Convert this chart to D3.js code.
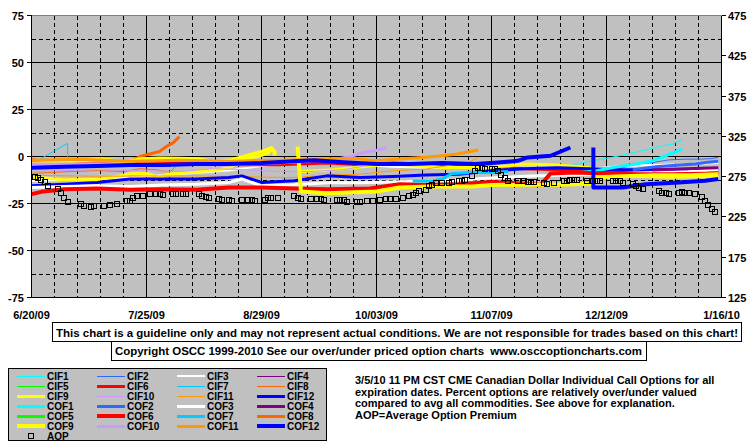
<!DOCTYPE html>
<html><head><meta charset="utf-8">
<script src="https://cdn.jsdelivr.net/npm/d3@7"></script>
<style>
html,body{margin:0;padding:0;background:#fff;}
svg{display:block;}
text{font-family:"Liberation Sans",Arial,sans-serif;font-weight:bold;font-size:11px;fill:#000;}
text.lgt{font-size:10px;}
</style></head><body>
<svg id="chart" width="755" height="446"></svg>
<script>
// ---------- data ----------
const xTickLabels = ["6/20/09","7/25/09","8/29/09","10/03/09","11/07/09","12/12/09","1/16/10"];
const leftTicks = [75,50,25,0,-25,-50,-75];
const rightTicks = [475,425,375,325,275,225,175,125];

const CIF1 = [["11/27/09",-7],["12/3/09",-4],["12/7/09",-2.5],["12/12/09",-1],["12/16/09",0.4],["12/20/09",2],["12/24/09",3.5],["12/29/09",5.7],["1/1/10",6.5],["1/4/10",8.9]];
const CIF2 = [["12/10/09",-6.5],["12/17/09",-5.9],["12/21/09",-4],["12/26/09",-3.2],["12/31/09",-1.8],["1/5/10",-1.4],["1/10/10",-1.4],["1/13/10",-1.1],["1/15/10",-0.5]];
const CIF3 = [["6/20/09",-13],["7/10/09",-12],["7/30/09",-10],["8/19/09",-7.5],["8/29/09",-5],["9/8/09",-3],["9/18/09",-3.5],["9/28/09",-4.5],["10/8/09",-5.5],["10/18/09",-6],["10/28/09",-6],["11/7/09",-5.9],["11/17/09",-6],["11/27/09",-6],["12/7/09",-6.5],["12/17/09",-5],["12/27/09",-4.5],["1/6/10",-4],["1/15/10",-3.5]];
const CIF4 = [["1/2/10",-6.8],["1/8/10",-6.3],["1/15/10",-5.8]];
const CIF5 = [];
const CIF6 = [["6/20/09",-1.8],["6/25/09",-2.7],["7/5/09",-3.5],["7/15/09",-3.5],["7/25/09",-3.9],["8/4/09",-3.5],["8/14/09",-3.9],["8/24/09",-4.4],["9/3/09",-4.4],["9/18/09",-3.5],["9/28/09",-4.4],["10/8/09",-3.5],["10/18/09",-4],["10/28/09",-4.5],["11/7/09",-5],["11/12/09",-6],["11/17/09",-6.5],["11/27/09",-7],["12/7/09",-7.5],["12/17/09",-8],["12/27/09",-8],["1/6/10",-8.5],["1/15/10",-8.5]];
const CIF7 = [["6/22/09",-2],["6/23/09",-1],["6/25/09",1],["6/27/09",3],["6/29/09",5],["7/1/09",7],["7/1/09",-3]];
const CIF8 = [["6/20/09",-9],["6/26/09",-8.5],["7/2/09",-8],["7/10/09",-7.5],["7/18/09",-8],["7/23/09",-6.5],["7/28/09",-7],["8/1/09",-8.5],["8/3/09",-5],["8/5/09",-4]];
const CIF9 = [["6/20/09",-11],["6/24/09",-11.5],["6/30/09",-12.4],["7/10/09",-12.4],["7/16/09",-10.6],["7/20/09",-9.2],["7/25/09",-8.9],["7/28/09",-10.6],["7/29/09",-11.5],["7/31/09",-9.5],["8/4/09",-8.9],["8/10/09",-8],["8/16/09",-7.1],["8/20/09",-5.3],["8/24/09",-0.9],["8/28/09",0],["8/31/09",1.8],["9/1/09",3.5],
  null,["9/10/09",-8],["9/20/09",-7],["10/1/09",-5],["10/6/09",-4],["10/15/09",-4.6],["10/23/09",-5.9],["11/2/09",-5.9],["11/12/09",-5],["11/17/09",-4],["11/27/09",-4.5],["12/7/09",-6],["12/10/09",-9.5],["12/20/09",-10.5],["1/1/10",-11],["1/15/10",-10.5]];
const CIF10 = [["6/20/09",-8],["7/10/09",-7],["7/25/09",-7.5],["8/4/09",-8],["8/14/09",-6.5],["8/24/09",-7],["9/3/09",-8],["9/13/09",-8],["9/23/09",-7],["9/28/09",-5.5],["10/3/09",-4],["10/6/09",-2]];
const CIF11 = [["6/20/09",-10],["7/10/09",-10.5],["8/9/09",-10.3],["8/19/09",-10.5],["8/29/09",-11],["9/8/09",-11.2],["9/18/09",-9.9],["9/28/09",-9.4],["10/8/09",-7.6],["10/18/09",-6.7],["10/24/09",-5],["10/31/09",-3.2],["11/3/09",-0.5]];
const CIF12 = [["6/20/09",-15.6],["6/30/09",-14.7],["7/10/09",-13.8],["7/20/09",-12],["7/30/09",-12],["8/9/09",-12],["8/19/09",-11.2],["8/23/09",-10.3],["8/29/09",-13.8],["9/8/09",-12.9],["9/18/09",-10.3],["9/28/09",-11.2],["10/8/09",-10.6],["10/18/09",-9.9],["10/28/09",-9.4],["11/7/09",-7.6],["11/17/09",-6.5],["11/27/09",-6],["12/7/09",-6.5],["12/17/09",-7],["12/27/09",-7],["1/6/10",-7.5],["1/15/10",-7]];

const COF1 = [["12/1/09",-9],["12/9/09",-7.6],["12/14/09",-5.9],["12/21/09",-4],["12/26/09",-2.3],["12/30/09",0.4],["1/4/10",3.9]];
const COF2 = [["12/20/09",-7],["12/27/09",-5.5],["1/3/10",-4.5],["1/8/10",-4],["1/12/10",-3],["1/15/10",-2.5]];
const COF3 = [["6/20/09",-16.5],["6/30/09",-16],["7/10/09",-15.6],["7/20/09",-16],["7/30/09",-15.2],["8/9/09",-14.7],["8/19/09",-13.8],["8/23/09",-12],["8/29/09",-15.6],["9/8/09",-15],["9/18/09",-14],["9/28/09",-14],["10/8/09",-13.5],["10/18/09",-13],["10/28/09",-12.5],["11/7/09",-11.5],["11/17/09",-10.5],["11/27/09",-10],["12/7/09",-9.5],["12/17/09",-9],["12/27/09",-8.5],["1/6/10",-8],["1/15/10",-7]];
const COF4 = [["12/26/09",-7.2],["1/5/10",-6.5],["1/15/10",-6]];
const COF5 = [];
const COF6 = [["6/20/09",-20],["6/23/09",-18.8],["6/30/09",-17.4],["7/10/09",-17],["7/20/09",-17.7],["7/30/09",-17.4],["8/9/09",-17.7],["8/19/09",-16.5],["8/29/09",-16.5],["9/8/09",-17],["9/18/09",-17.4],["10/1/09",-17],["10/10/09",-14.7],["10/20/09",-15.2],["10/28/09",-14.7],["11/7/09",-13.5],["11/17/09",-14.5],["11/22/09",-15],["11/25/09",-9],["12/2/09",-8.5],["12/12/09",-9],["12/22/09",-9.4],["1/1/10",-9.4],["1/15/10",-9]];
const COF7 = [["6/20/09",-3.5],["6/24/09",-3],["6/28/09",-3],["6/30/09",-3.2],
  null,["10/14/09",-13],["10/20/09",-13],["10/23/09",-12],["10/26/09",-9],["11/1/09",-8.5],["11/7/09",-8.5],["11/12/09",-8]];
const COF8 = [["6/20/09",-2],["6/28/09",-2.5],["7/6/09",-3.5],["7/14/09",-3.5],["7/17/09",-3.2],["7/20/09",-2.7],["7/23/09",0],["7/25/09",0.9],["7/27/09",1.8],["7/29/09",2.7],["7/31/09",5.3],["8/2/09",7.1],["8/4/09",10.6]];
const COF9 = [["6/20/09",-4],["6/28/09",-3],["7/5/09",-2],["7/11/09",-1.5],["7/19/09",-3],["7/23/09",-1.5],["7/29/09",-1],["8/4/09",-1.2],["8/10/09",-1.5],["8/14/09",-3],["8/20/09",-2],["8/24/09",0],["8/27/09",1.5],["8/30/09",3],["9/1/09",4.5],["9/2/09",2.5],["9/2/09",0.5],
  null,["9/9/09",5.3],["9/10/09",-18.6],["9/18/09",-19.5],["10/3/09",-18.6],["10/10/09",-16.5],["10/20/09",-16],["11/1/09",-16],["11/7/09",-15.2],["11/17/09",-15],["11/27/09",-15],["12/7/09",-14.5],["12/9/09",-11],["12/17/09",-10.5],["12/27/09",-10],["1/6/10",-10],["1/15/10",-9.5]];
const COF10 = [["6/20/09",-4],["7/20/09",-4],["8/19/09",-4.5],["9/8/09",-3],["9/15/09",-1.8],["9/22/09",-1],["9/25/09",0],["9/29/09",2.1],["10/3/09",3.2],["10/6/09",4.8]];
const COF11 = [["6/20/09",-2],["7/5/09",-1.5],["7/20/09",-2.5],["8/4/09",-2],["8/19/09",-2.5],["9/3/09",-2],["9/17/09",-1.4],["9/27/09",-1.1],["10/2/09",-2.3],["10/9/09",-1.4],["10/17/09",-0.5],["10/23/09",0.4],["10/27/09",1.2],["11/3/09",3.5]];
const COF12 = [["6/20/09",-6],["6/30/09",-5.5],["7/10/09",-5],["7/20/09",-4.5],["7/30/09",-4.5],["8/9/09",-4],["8/19/09",-4],["8/29/09",-3.5],["9/8/09",-2.5],["9/14/09",-2],["9/23/09",-3],["10/3/09",-4],["10/13/09",-4],["10/23/09",-3.5],["11/2/09",-4],["11/9/09",-3.2],["11/15/09",-2.3],["11/18/09",-0.5],["11/25/09",0.4],["12/1/09",4.8],
  null,["12/8/09",4.8],["12/8/09",-16.5],["12/17/09",-16.5],["12/24/09",-14.7],["1/3/10",-13.8],["1/11/10",-12.9],["1/15/10",-12]];

const aopDates = ["6/21/09","6/22/09","6/23/09","6/24/09","6/25/09","6/28/09","6/29/09","6/30/09","7/1/09","7/5/09","7/6/09","7/8/09","7/9/09","7/12/09","7/14/09","7/16/09","7/19/09","7/20/09","7/21/09","7/22/09","7/24/09","7/26/09","7/28/09","7/29/09","7/30/09","8/2/09","8/3/09","8/5/09","8/6/09","8/10/09","8/11/09","8/12/09","8/13/09","8/16/09","8/17/09","8/19/09","8/20/09","8/23/09","8/25/09","8/26/09","8/27/09","8/30/09","8/31/09","9/1/09","9/3/09","9/8/09","9/9/09","9/10/09","9/13/09","9/15/09","9/16/09","9/17/09","9/21/09","9/22/09","9/23/09","9/24/09","9/27/09","9/28/09","9/30/09","10/2/09","10/4/09","10/6/09","10/7/09","10/9/09","10/11/09","10/13/09","10/14/09","10/15/09","10/16/09","10/18/09","10/19/09","10/20/09","10/21/09","10/23/09","10/25/09","10/26/09","10/28/09","10/29/09","10/30/09","11/1/09","11/2/09","11/3/09","11/4/09","11/5/09","11/7/09","11/8/09","11/9/09","11/10/09","11/11/09","11/12/09","11/15/09","11/17/09","11/18/09","11/19/09","11/20/09","11/23/09","11/24/09","11/26/09","11/29/09","11/30/09","12/1/09","12/2/09","12/3/09","12/6/09","12/8/09","12/9/09","12/10/09","12/14/09","12/15/09","12/16/09","12/17/09","12/20/09","12/21/09","12/22/09","12/23/09","12/28/09","12/29/09","12/30/09","12/31/09","1/3/10","1/4/10","1/5/10","1/6/10","1/8/10","1/10/10","1/11/10","1/12/10","1/13/10","1/14/10"];
const aopValues = [274,273,271,268,263,259.5,255,248,243,240.5,239,237.5,238,239,240,241.5,244.5,245,248,250.5,251.5,253,254,253,252,253,253.3,253.7,253.7,254,251.5,249.5,248,247.5,246.3,246.3,245,246.3,246.3,246.3,245,246.3,248.7,249,249,250.4,248.4,247.5,247.5,247.5,247.5,246,246.6,246.6,246.3,243.8,243,243.8,244.2,244.2,246.3,247,247,247,249,250.4,252.5,254.6,256.6,258.7,262.8,265,267,267.7,267.7,268.2,269,270.2,271.1,276.4,281.4,285.6,285.6,284.7,284.7,284.7,282.6,277.3,273.2,270.2,270.2,269,268.2,268.2,268.2,267.7,265.7,267.7,269,270.2,271.1,271.1,271.1,270.2,269,269,269,270.2,270.2,269,267.7,265.7,263.6,261.5,259.5,257.4,255.3,254.6,253.7,255.3,256.2,255.3,255.3,253.7,249.6,245,240,235.1,231.7];

const seriesNames = ["CIF1","CIF2","CIF3","CIF4","CIF5","CIF6","CIF7","CIF8","CIF9","CIF10","CIF11","CIF12",
                     "COF1","COF2","COF3","COF4","COF5","COF6","COF7","COF8","COF9","COF10","COF11","COF12"];
const seriesData = [CIF1,CIF2,CIF3,CIF4,CIF5,CIF6,CIF7,CIF8,CIF9,CIF10,CIF11,CIF12,
                    COF1,COF2,COF3,COF4,COF5,COF6,COF7,COF8,COF9,COF10,COF11,COF12];
const monthColors = ["#00FFFF","#3366FF","#FFFFFF","#800080","#00FF00","#FF0000","#00CCFF","#FF6600","#FFFF00","#CC99FF","#FF9900","#0000FF"];
const cifWidths = [1,1,2,1,1,3,1,1,3,1,1,3];
const cofWidths = [3,3,3,3,3,4,3,3,4,3,3,4];

const disclaimer = "This chart is a guideline only and may not represent actual conditions. We are not responsible for trades based on this chart!";
const copyright = "Copyright OSCC 1999-2010 See our over/under priced option charts  www.osccoptioncharts.com";
const descLines = ["3/5/10 11 PM CST CME Canadian Dollar Individual Call Options for all",
                   "expiration dates. Percent options are relatively over/under valued",
                   "compared to avg all commodities. See above for explanation.",
                   "AOP=Average Option Premium"];

// ---------- drawing ----------
const parse = d3.timeParse("%m/%d/%y");
const svg = d3.select("#chart");
svg.append("rect").attr("width",755).attr("height",446).attr("fill","#fff");

const L = 31.5, R = 721.5, T = 15.5, B = 297.5;
const start = parse(xTickLabels[0]), end = parse(xTickLabels[xTickLabels.length-1]);
const x = d3.scaleTime().domain([start,end]).range([L,R]);
const yL = d3.scaleLinear().domain([-75,75]).range([B,T]);
const yR = d3.scaleLinear().domain([125,475]).range([B,T]);
const snap = v => Math.round(v - 0.5) + 0.5;

svg.append("rect").attr("x",L).attr("y",T).attr("width",R-L).attr("height",B-T).attr("fill","#C0C0C0");

const grid = svg.append("g").attr("shape-rendering","crispEdges");
const weeks = d3.timeDay.range(start, d3.timeDay.offset(end,1), 1).filter(d => d3.timeDay.count(start,d) % 7 === 0);
weeks.forEach((d,i) => {
  if (i === 0 || i === weeks.length-1) return;
  const major = i % 5 === 0;
  grid.append("line").attr("x1",snap(x(d))).attr("x2",snap(x(d))).attr("y1",T).attr("y2",B)
    .attr("stroke","#000").attr("stroke-width",1).attr("stroke-dasharray", major ? null : "4,3");
});
d3.range(-62.5, 75, 12.5).forEach(v => {
  const major = v % 25 === 0;
  grid.append("line").attr("x1",L).attr("x2",R).attr("y1",snap(yL(v))).attr("y2",snap(yL(v)))
    .attr("stroke","#000").attr("stroke-width",1).attr("stroke-dasharray", major ? null : "4,3");
});

svg.append("clipPath").attr("id","plotclip").append("rect").attr("x",L).attr("y",T).attr("width",R-L).attr("height",B-T);
const plot = svg.append("g").attr("clip-path","url(#plotclip)");

const line = d3.line().defined(d => d !== null).x(d => x(parse(d[0]))).y(d => yL(d[1]));
seriesData.forEach((data,i) => {
  if (!data.length) return;
  const m = i % 12, isCOF = i >= 12;
  plot.append("path").attr("d", line(data)).attr("fill","none")
    .attr("stroke", monthColors[m]).attr("stroke-width", isCOF ? cofWidths[m] : cifWidths[m])
    .attr("stroke-linejoin","round").attr("stroke-linecap","butt");
});

plot.selectAll("rect.aop").data(aopDates.map((d,i)=>[d,aopValues[i]])).enter().append("rect")
  .attr("class","aop")
  .attr("x", d => Math.round(x(parse(d[0]))) - 2.5)
  .attr("y", d => Math.round(yR(d[1])) - 2.5)
  .attr("width",5).attr("height",5).attr("fill","none").attr("stroke","#000").attr("stroke-width",1)
  .attr("shape-rendering","crispEdges");

const frame = svg.append("g").attr("shape-rendering","crispEdges");
frame.append("line").attr("x1",L).attr("x2",R).attr("y1",T).attr("y2",T).attr("stroke","#808080");
frame.append("line").attr("x1",L).attr("x2",L).attr("y1",T).attr("y2",B).attr("stroke","#000");
frame.append("line").attr("x1",L).attr("x2",R).attr("y1",B).attr("y2",B).attr("stroke","#000");
frame.append("line").attr("x1",R).attr("x2",R).attr("y1",T).attr("y2",B).attr("stroke","#000");

leftTicks.forEach(v => {
  const y = snap(yL(v));
  frame.append("line").attr("x1",27).attr("x2",L).attr("y1",y).attr("y2",y).attr("stroke","#000");
  svg.append("text").attr("x",24).attr("y",y+4).attr("text-anchor","end").text(v);
});
rightTicks.forEach(v => {
  const y = snap(yR(v));
  frame.append("line").attr("x1",R).attr("x2",726).attr("y1",y).attr("y2",y).attr("stroke","#000");
  svg.append("text").attr("x",728).attr("y",y+4).attr("text-anchor","start").text(v);
});
xTickLabels.forEach(s => {
  svg.append("text").attr("x",x(parse(s))).attr("y",318.5).attr("text-anchor","middle").text(s);
});

svg.append("rect").attr("x",52.5).attr("y",322.5).attr("width",689).attr("height",19)
  .attr("fill","#fff").attr("stroke","#000").attr("shape-rendering","crispEdges");
svg.append("text").attr("x",56).attr("y",336.5).attr("textLength",682).attr("lengthAdjust","spacingAndGlyphs").text(disclaimer);
svg.append("rect").attr("x",111.5).attr("y",341.5).attr("width",535).attr("height",19)
  .attr("fill","#fff").attr("stroke","#000").attr("shape-rendering","crispEdges");
svg.append("text").attr("x",115).attr("y",355).attr("textLength",527).attr("lengthAdjust","spacingAndGlyphs")
  .style("white-space","pre").attr("xml:space","preserve").text(copyright);

const lg = svg.append("g");
lg.append("rect").attr("x",8.5).attr("y",368.5).attr("width",318).attr("height",72)
  .attr("fill","#C0C0C0").attr("stroke","#000").attr("shape-rendering","crispEdges");
const colX = [17,97,177,257];
seriesNames.forEach((name,i) => {
  const col = i % 4, row = Math.floor(i/4), m = i % 12, isCOF = i >= 12;
  const w = isCOF ? cofWidths[m] : cifWidths[m];
  const cy = 376 + row*10;
  const yy = (w % 2 === 1) ? cy + 0.5 : cy;
  lg.append("line").attr("x1",colX[col]).attr("x2",colX[col]+28).attr("y1",yy).attr("y2",yy)
    .attr("stroke",monthColors[m]).attr("stroke-width",w).attr("shape-rendering","crispEdges");
  lg.append("text").attr("class","lgt").attr("x",colX[col]+30).attr("y",cy+4).text(name);
});
lg.append("rect").attr("x",28.5).attr("y",433.5).attr("width",5).attr("height",5)
  .attr("fill","none").attr("stroke","#000").attr("shape-rendering","crispEdges");
lg.append("text").attr("class","lgt").attr("x",47).attr("y",440).text("AOP");

descLines.forEach((s,i) => {
  svg.append("text").attr("x",355).attr("y",384 + i*11.67).text(s);
});
</script>
</body></html>
